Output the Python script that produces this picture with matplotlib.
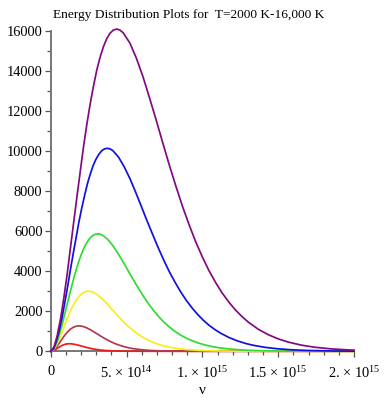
import matplotlib
matplotlib.use("Agg")
import matplotlib.pyplot as plt
from matplotlib.ticker import MultipleLocator
import numpy as np

plt.rcParams['font.family'] = ['Liberation Serif', 'DejaVu Serif']
plt.rcParams['mathtext.fontset'] = 'custom'
plt.rcParams['mathtext.rm'] = 'Liberation Serif'
plt.rcParams['mathtext.it'] = 'Liberation Serif:italic'

title = "Energy Distribution Plots for  T=2000 K-16,000 K"
x_label = "ν"

# frequencies in units of 1e14 Hz
nu_7000 = [0, 0.22, 0.43, 0.65, 0.87, 1.09, 1.30, 1.52, 1.74, 1.96, 2.17, 2.39, 2.61, 2.83, 3.04, 3.26,
           3.48, 3.69, 3.91, 4.13, 4.35, 4.56, 4.78, 5.22, 5.65, 6.09, 6.52, 6.96, 7.39, 7.82, 8.26,
           8.69, 9.13, 9.56, 10.00, 10.43, 10.87, 11.30, 11.74, 12.17, 12.61, 13.04, 13.69, 14.35,
           15.00, 15.65, 16.52, 17.39, 18.47, 19.56, 20.0]
u_7000 = [0, 209, 780, 1627, 2681, 3874, 5152, 6466, 7775, 9043, 10248, 11362, 12375, 13269, 14041, 14686,
          15204, 15596, 15871, 16030, 16080, 16033, 15893, 15384, 14626, 13689, 12637, 11526, 10399, 9293, 8228,
          7231, 6307, 5467, 4707, 4034, 3436, 2915, 2462, 2071, 1735, 1449, 1098, 827,
          619, 461, 308, 204, 121, 71, 56]

nu_6000 = [0, 0.19, 0.37, 0.56, 0.75, 0.93, 1.12, 1.30, 1.49, 1.68, 1.86, 2.05, 2.24, 2.42, 2.61, 2.79,
           2.98, 3.17, 3.35, 3.54, 3.73, 3.91, 4.10, 4.47, 4.84, 5.22, 5.59, 5.96, 6.33, 6.71, 7.08,
           7.45, 7.82, 8.20, 8.57, 8.94, 9.32, 9.69, 10.06, 10.43, 10.81, 11.18, 11.74, 12.30, 12.85,
           13.41, 14.16, 14.90, 15.84, 16.77, 18.63, 20.0]
u_6000 = [0, 132, 491, 1025, 1689, 2440, 3246, 4073, 4898, 5697, 6456, 7158, 7796, 8359, 8846, 9252,
          9578, 9825, 9998, 10099, 10130, 10101, 10012, 9691, 9214, 8624, 7961, 7261, 6551, 5854, 5184,
          4555, 3973, 3444, 2965, 2542, 2165, 1837, 1551, 1305, 1093, 913, 692, 521, 390,
          291, 194, 129, 76, 45, 15, 7]

nu_5000 = [0, 0.16, 0.31, 0.47, 0.62, 0.78, 0.93, 1.09, 1.24, 1.40, 1.55, 1.71, 1.86, 2.02, 2.17, 2.33,
           2.48, 2.64, 2.79, 2.95, 3.11, 3.26, 3.42, 3.73, 4.04, 4.35, 4.66, 4.97, 5.28, 5.59, 5.90,
           6.21, 6.52, 6.83, 7.14, 7.45, 7.76, 8.07, 8.38, 8.69, 9.00, 9.32, 9.78, 10.25, 10.71,
           11.18, 11.80, 12.42, 13.20, 13.97, 15.53, 18.63, 20.0]
u_5000 = [0, 76, 284, 593, 977, 1412, 1878, 2356, 2833, 3296, 3735, 4141, 4510, 4836, 5117, 5352,
          5541, 5684, 5784, 5842, 5860, 5843, 5792, 5606, 5330, 4989, 4605, 4200, 3790, 3387, 2999,
          2635, 2298, 1992, 1715, 1470, 1252, 1062, 897, 755, 632, 528, 400, 301, 225,
          168, 112, 74, 44, 26, 9, 1, 0]

nu_4000 = [0, 0.12, 0.25, 0.37, 0.50, 0.75, 0.99, 1.24, 1.49, 1.74, 1.99, 2.24, 2.36, 2.48, 2.61, 2.73,
           2.98, 3.23, 3.48, 3.73, 3.97, 4.22, 4.47, 4.72, 4.97, 5.22, 5.46, 5.71, 5.96, 6.21, 6.46,
           6.71, 6.96, 7.20, 7.45, 8.20, 8.94, 9.94, 11.18, 12.42, 14.90, 20.0]
u_4000 = [0, 39, 146, 304, 500, 961, 1451, 1912, 2309, 2620, 2837, 2961, 2991, 3000, 2991, 2965,
          2870, 2729, 2554, 2358, 2150, 1940, 1734, 1535, 1349, 1177, 1020, 878, 753, 641, 544,
          459, 386, 324, 270, 154, 86, 38, 13, 4, 0, 0]

nu_3000 = [0, 0.09, 0.19, 0.28, 0.37, 0.56, 0.75, 0.93, 1.12, 1.30, 1.49, 1.68, 1.77, 1.86, 1.96, 2.05,
           2.24, 2.42, 2.61, 2.79, 2.98, 3.17, 3.35, 3.54, 3.73, 3.91, 4.10, 4.28, 4.47, 4.66, 4.84,
           5.03, 5.22, 5.40, 5.59, 6.15, 6.71, 7.45, 8.38, 9.32, 11.18, 20.0]
u_3000 = [0, 16, 61, 128, 211, 406, 612, 807, 974, 1105, 1197, 1250, 1262, 1266, 1262, 1251,
          1211, 1152, 1078, 995, 907, 819, 732, 648, 569, 497, 430, 371, 318, 271, 230,
          194, 163, 137, 114, 65, 36, 16, 6, 2, 0, 0]

nu_2000 = [0, 0.06, 0.12, 0.19, 0.25, 0.37, 0.50, 0.62, 0.75, 0.87, 0.99, 1.12, 1.18, 1.24, 1.30, 1.37,
           1.49, 1.61, 1.74, 1.86, 1.99, 2.11, 2.24, 2.36, 2.48, 2.61, 2.73, 2.86, 2.98, 3.11, 3.23,
           3.35, 3.48, 3.60, 3.73, 4.10, 4.47, 4.97, 5.59, 6.21, 7.45, 20.0]
u_2000 = [0, 5, 18, 38, 63, 120, 181, 239, 289, 327, 355, 370, 374, 375, 374, 371,
          359, 341, 319, 295, 269, 243, 217, 192, 169, 147, 128, 110, 94, 80, 68,
          57, 48, 40, 34, 19, 11, 5, 2, 1, 0, 0]

series = [
    (nu_2000, u_2000, "#ee1c1c"),
    (nu_3000, u_3000, "#b23a4a"),
    (nu_4000, u_4000, "#f4f01e"),
    (nu_5000, u_5000, "#30dc30"),
    (nu_6000, u_6000, "#1010e0"),
    (nu_7000, u_7000, "#800a80"),
]

x_ticks = [0, 5e14, 1e15, 1.5e15, 2e15]
x_tick_labels = ["0", r"5. × 10$^{14}$", r"1. × 10$^{15}$", r"1.5 × 10$^{15}$", r"2. × 10$^{15}$"]
y_ticks = [0, 2000, 4000, 6000, 8000, 10000, 12000, 14000, 16000]

fig = plt.figure(figsize=(3.88, 4.0), dpi=100)
ax = fig.add_axes([0.1307, 0.1218, 0.7817, 0.8015])

for nu, u, c in series:
    ax.plot(np.array(nu) * 1e14, u, color=c, lw=1.25, clip_on=False, zorder=3,
            solid_joinstyle="round")

ax.set_xlim(0, 2e15)
ax.set_ylim(0, 16000)
ax.set_xticks(x_ticks)
ax.set_xticklabels(x_tick_labels)
ax.set_yticks(y_ticks)
ax.xaxis.set_minor_locator(MultipleLocator(1e14))
ax.yaxis.set_minor_locator(MultipleLocator(1000))

for s in ["top", "right"]:
    ax.spines[s].set_visible(False)
for s in ["left", "bottom"]:
    ax.spines[s].set_color("#777777")
    ax.spines[s].set_linewidth(1.4)

ax.tick_params(axis="both", which="both", direction="out", color="#555555", width=0.9)
ax.tick_params(axis="both", which="major", length=4, labelsize=10.4)
ax.tick_params(axis="both", which="minor", length=3)
ax.tick_params(axis="x", pad=6)
ax.tick_params(axis="y", pad=2)

ax.set_xlabel(x_label, fontsize=11, labelpad=2)
fig.text(188.5 / 388, 1 - 15 / 400, title, ha="center", va="center", fontsize=9.6)

fig.savefig("out.png", dpi=100)
